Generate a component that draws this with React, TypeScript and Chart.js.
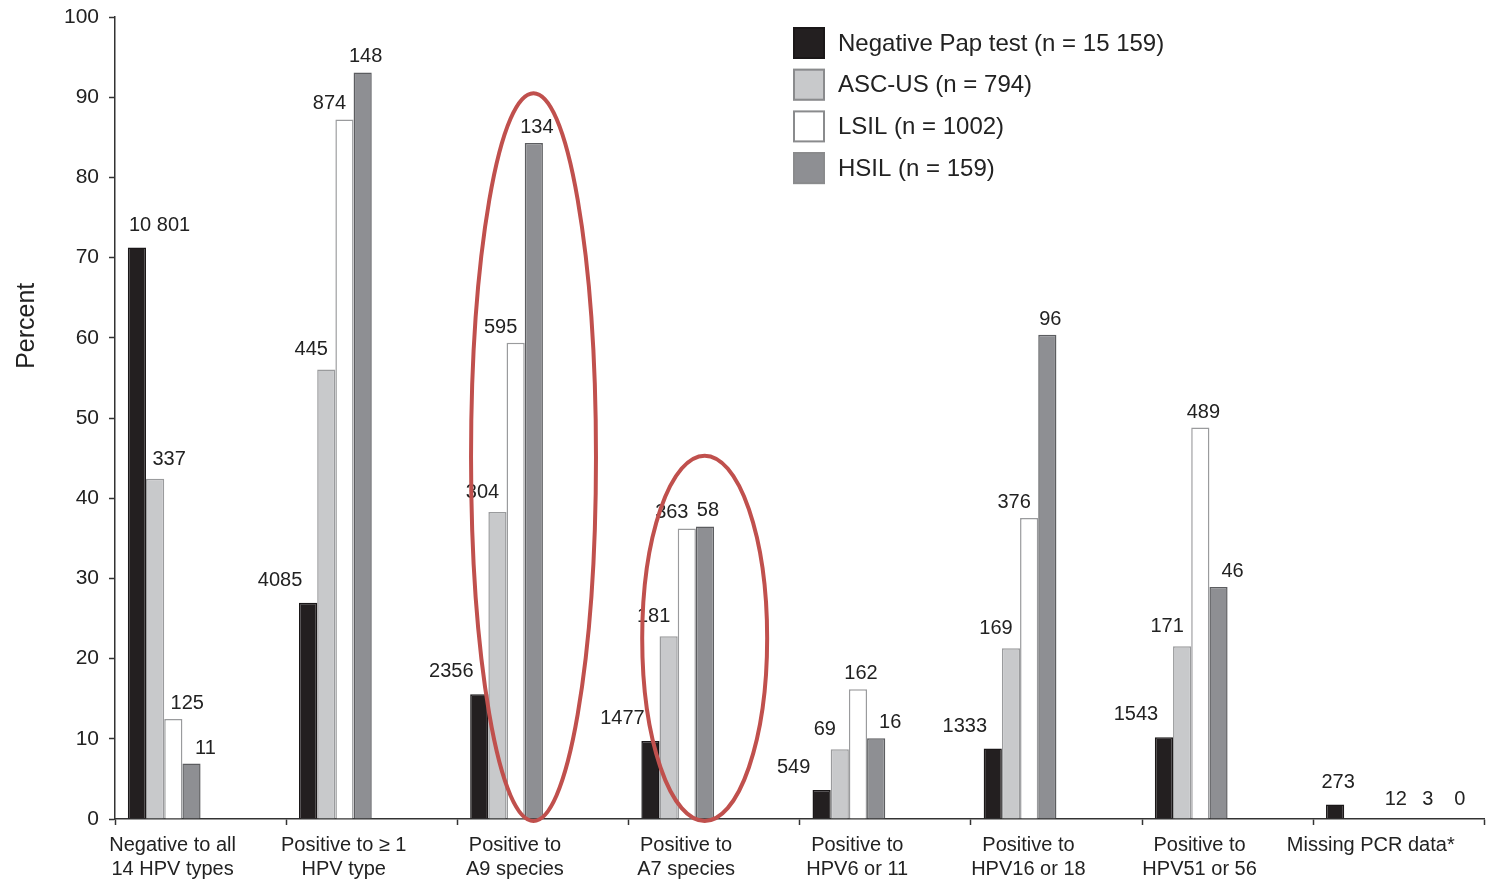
import React, { useEffect, useRef } from "react";
import { Chart, registerables } from "chart.js";

Chart.register(...registerables);

const categories: string[][] = [
  ["Negative to all", "14 HPV types"],
  ["Positive to \u2265 1", "HPV type"],
  ["Positive to", "A9 species"],
  ["Positive to", "A7 species"],
  ["Positive to", "HPV6 or 11"],
  ["Positive to", "HPV16 or 18"],
  ["Positive to", "HPV51 or 56"],
  ["Missing PCR data*"],
];

const seriesNames = [
  "Negative Pap test (n = 15 159)",
  "ASC-US (n = 794)",
  "LSIL (n = 1002)",
  "HSIL (n = 159)",
];

const negativeValues = [71.25, 26.95, 15.54, 9.74, 3.62, 8.79, 10.18, 1.8];
const ascusValues = [42.44, 56.05, 38.29, 22.8, 8.69, 21.28, 21.54, 0];
const lsilValues = [12.48, 87.23, 59.38, 36.23, 16.17, 37.52, 48.8, 0];
const hsilValues = [6.92, 93.08, 84.28, 36.48, 10.06, 60.38, 28.93, 0];

const negativeCounts = ["10 801", "4085", "2356", "1477", "549", "1333", "1543", "273"];
const ascusCounts = ["337", "445", "304", "181", "69", "169", "171", "12"];
const lsilCounts = ["125", "874", "595", "363", "162", "376", "489", "3"];
const hsilCounts = ["11", "148", "134", "58", "16", "96", "46", "0"];

const yTicks = [0, 10, 20, 30, 40, 50, 60, 70, 80, 90, 100];

const highlightedGroups = [2, 3];
const highlightTops = [90.5, 45.3];

const fills = ["#231f20", "#c8c9cb", "#ffffff", "#8e8f93"];
const borders = ["#1a1718", "#9a9b9d", "#9a9b9d", "#5c5d60"];
const labelDy = [17, 14, 10, 10];

const FONT = "'Liberation Sans', Arial, Helvetica, sans-serif";
const TEXT = "#222222";

const allValues = [negativeValues, ascusValues, lsilValues, hsilValues];
const allCounts = [negativeCounts, ascusCounts, lsilCounts, hsilCounts];

const overlayPlugin = {
  id: "overlay",
  afterDatasetsDraw(chart: any) {
    const ctx = chart.ctx;
    const x = chart.scales.x;
    const y = chart.scales.y;
    const catW = (x.right - x.left) / categories.length;
    ctx.save();
    // bar count labels
    ctx.font = `20px ${FONT}`;
    ctx.fillStyle = TEXT;
    ctx.textAlign = "center";
    ctx.textBaseline = "alphabetic";
    for (let d = 0; d < 4; d++) {
      const meta = chart.getDatasetMeta(d);
      meta.data.forEach((bar: any, i: number) => {
        const v = allValues[d][i];
        const text = allCounts[d][i];
        const w = ctx.measureText(text).width;
        let lx = bar.x;
        let ly = bar.y - labelDy[d];
        if (v <= 0) {
          // no visible bar: labels sit in a row to the right
          lx = x.getPixelForValue(i) + (d - 1) * 32 - 3;
          ly = y.getPixelForValue(0) - 14;
        } else {
          const next = d < 3 ? allValues[d + 1][i] : -1;
          const prev = d > 0 ? allValues[d - 1][i] : -1;
          if (next > v) lx = bar.x - (d === 0 ? 28 : 15);
          else if (prev > v) lx = bar.x + 14;
          else lx = bar.x + 3;
          const minLeft = x.left + 14;
          if (lx - w / 2 < minLeft) lx = minLeft + w / 2;
        }
        ctx.fillText(text, lx, ly);
      });
    }
    // red ellipses
    ctx.strokeStyle = "#c0504d";
    ctx.lineWidth = 4;
    highlightedGroups.forEach((g, k) => {
      const cx = x.getPixelForValue(g) - catW * 0.055;
      const top = y.getPixelForValue(highlightTops[k]);
      const bottom = y.getPixelForValue(0) + 2;
      const cy = (top + bottom) / 2;
      const ry = (bottom - top) / 2;
      const rx = catW * 0.365;
      ctx.beginPath();
      ctx.ellipse(cx, cy, rx, ry, 0, 0, Math.PI * 2);
      ctx.stroke();
    });
    // legend
    const lgx = x.left + 678;
    const lgy = y.top + 10;
    ctx.font = `24px ${FONT}`;
    ctx.textAlign = "left";
    ctx.textBaseline = "middle";
    seriesNames.forEach((name, i) => {
      const by = lgy + i * 41.7;
      ctx.fillStyle = fills[i];
      ctx.fillRect(lgx, by, 32, 32);
      ctx.lineWidth = 2;
      ctx.strokeStyle = i === 0 ? "#1a1718" : "#8a8b8d";
      ctx.strokeRect(lgx + 1, by + 1, 30, 30);
      ctx.fillStyle = TEXT;
      ctx.fillText(name, lgx + 45, by + 17);
    });
    // y-axis title
    ctx.save();
    ctx.translate(27, y.getPixelForValue(61.5));
    ctx.rotate(-Math.PI / 2);
    ctx.textAlign = "center";
    ctx.textBaseline = "middle";
    ctx.font = `25px ${FONT}`;
    ctx.fillStyle = TEXT;
    ctx.fillText("Percent", 0, 0);
    ctx.restore();
    ctx.restore();
  },
};

export default function App() {
  const canvasRef = useRef<HTMLCanvasElement | null>(null);

  useEffect(() => {
    if (!canvasRef.current) return;
    const realSets = allValues.map((vals, i) => ({
      label: seriesNames[i],
      data: vals,
      backgroundColor: fills[i],
      borderColor: borders[i],
      borderWidth: 1.5,
      categoryPercentage: 0.85,
      barPercentage: 1,
    }));
    const spacerSets = [0, 1, 2, 3].map((i) => ({
      label: "spacer" + i,
      data: categories.map(() => null),
      backgroundColor: "transparent",
      borderWidth: 0,
      categoryPercentage: 0.85,
      barPercentage: 1,
    }));
    const chart = new Chart(canvasRef.current, {
      type: "bar",
      data: {
        labels: categories,
        datasets: [...realSets, ...spacerSets] as any,
      },
      plugins: [overlayPlugin],
      options: {
        animation: false,
        responsive: true,
        maintainAspectRatio: false,
        layout: { padding: { top: 17, right: 5, left: 0, bottom: 0 } },
        plugins: {
          legend: { display: false },
          tooltip: { enabled: false },
          title: { display: false },
        },
        scales: {
          x: {
            type: "category",
            offset: true,
            grid: {
              offset: true,
              drawOnChartArea: false,
              drawTicks: true,
              tickLength: 6,
              tickColor: "#333",
              tickWidth: 1.5,
            },
            border: { display: true, color: "#333", width: 1.5 },
            ticks: {
              autoSkip: false,
              maxRotation: 0,
              minRotation: 0,
              labelOffset: -28,
              padding: 8,
              color: TEXT,
              font: { family: FONT, size: 20, lineHeight: 1.22 },
            },
            afterFit: (scale: any) => {
              scale.height = 61;
            },
          },
          y: {
            min: 0,
            max: 100,
            afterBuildTicks: (scale: any) => {
              scale.ticks = yTicks.map((v) => ({ value: v }));
            },
            grid: {
              drawOnChartArea: false,
              drawTicks: true,
              tickLength: 6,
              tickColor: "#333",
              tickWidth: 1.5,
            },
            border: { display: true, color: "#333", width: 1.5 },
            ticks: {
              padding: 10,
              color: TEXT,
              font: { family: FONT, size: 21, lineHeight: 0.6 },
            },
            afterFit: (scale: any) => {
              scale.width = 115;
            },
          },
        },
      } as any,
    });
    return () => chart.destroy();
  }, []);

  return (
    <div style={{ position: "fixed", left: 0, top: 0, width: 1491, height: 880, background: "#fff" }}>
      <canvas ref={canvasRef} />
    </div>
  );
}
